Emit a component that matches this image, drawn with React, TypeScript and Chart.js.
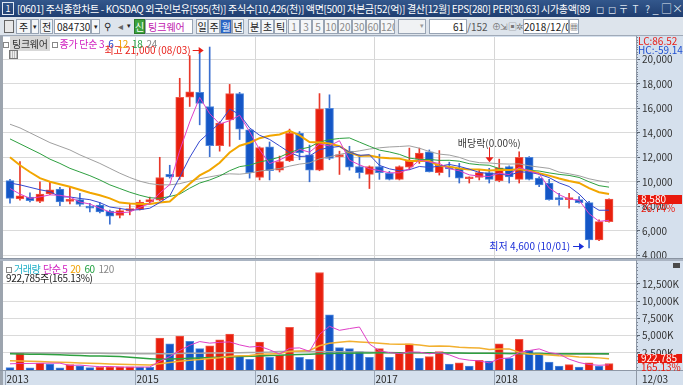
import React, { useEffect, useRef } from 'react';
import { Chart, registerables } from 'chart.js';
Chart.register(...registerables);

const FONT = '"Liberation Sans Narrow", "Noto Sans CJK KR", sans-serif';

// ---------- data (monthly, 2013-12 .. 2018-12) ----------
const yearStartIdx = [0, 13, 25, 37, 49];
const yearLabels = ['2013', '2015', '2016', '2017', '2018'];
const lastDateLabel = '12/03';

const opens = [10100, 8600, 8750, 8400, 9000, 9400, 8400, 8550, 8000, 8100, 7600, 7250, 7650, 7750, 8350,
  8500, 10600, 10400, 16900, 17300, 16150, 12950, 15050, 17200, 14250, 10350, 12850, 10950, 11700, 13950,
  12200, 10950, 16000, 12050, 12500, 11250, 10600, 11250, 10700, 10200, 11200, 11850, 12450, 10750, 11250,
  11100, 10250, 10350, 10750, 10100, 11250, 10200, 12000, 10300, 9900, 8650, 8550, 8550, 8300, 5250, 6750];
const highs = [10200, 11650, 9100, 10000, 10000, 9550, 9600, 9050, 8250, 8300, 7700, 7850, 8250, 8500, 8750,
  12000, 11350, 18450, 20300, 20500, 21000, 14900, 17950, 17300, 14300, 12850, 13250, 12100, 14300, 14100,
  13000, 17200, 17100, 12500, 12900, 12200, 11300, 12250, 10850, 11300, 12750, 12750, 12600, 12550, 11600,
  11500, 10400, 10950, 11100, 11850, 11300, 12450, 12050, 10400, 10200, 9050, 9050, 8800, 8400, 6900, 8600];
const lows = [8250, 8500, 8350, 8300, 8950, 8050, 8200, 8000, 7550, 7450, 6550, 7050, 7300, 7700, 8200,
  8450, 10300, 10200, 16150, 14650, 12050, 12500, 12900, 13450, 10300, 10150, 10150, 10800, 11650, 11800,
  10000, 10900, 11800, 10600, 10950, 10300, 9450, 10200, 10150, 10150, 11000, 11500, 10800, 10550, 10400,
  9900, 9900, 10150, 9900, 10000, 9900, 9900, 10150, 9600, 8500, 8100, 7850, 8250, 4600, 5200, 6700];
const closes = [8650, 8850, 8450, 9000, 9350, 8350, 8550, 8150, 7850, 7550, 7200, 7650, 7750, 8350, 8550,
  10350, 10400, 16900, 17350, 16400, 12950, 14800, 17200, 14300, 10750, 12800, 10900, 11650, 13950, 12350,
  10950, 15950, 11900, 12200, 11200, 10750, 11250, 10750, 10200, 11250, 11700, 12350, 10800, 11350, 11050,
  10300, 10350, 10750, 10200, 11150, 10400, 12000, 10200, 9750, 8550, 8550, 8650, 8300, 5250, 6750, 8580];
// volume in thousand shares
const volumes = [350, 2450, 330, 1000, 850, 330, 800, 600, 340, 380, 420, 450, 470, 420, 400,
  4650, 3800, 4930, 4180, 3100, 3530, 4370, 5210, 2030, 1560, 4040, 1850, 2130, 6190, 1850,
  1560, 14170, 8010, 3250, 3110, 2690, 1850, 3110, 1850, 2500, 3810, 1710, 1940, 2690, 860,
  1050, 580, 1420, 1280, 3810, 1710, 4460, 2870, 2500, 1140, 580, 770, 440, 1050, 580, 923];

// moving-average values before a full window exists
const ma3Head = [9450, 9000];
const ma6Head = [9900, 9750, 9550, 9350, 9200];
const ma12Head = [12000, 11350, 10800, 10300, 10000, 9800, 9600, 9350, 9100, 8900, 8650];
const ma18Head = [13500, 13100, 12700, 12300, 11850, 11500, 11100, 10800, 10500, 10150, 9750, 9450, 9150,
  8900, 8700, 8650, 8800];
const ma24Head = [14700, 14400, 14000, 13600, 13200, 12900, 12600, 12200, 11850, 11500, 11100, 10700,
  10350, 10050, 9850, 9750, 9750, 9850, 10050, 10250, 10400, 10550, 10650];
const volMa5Head = [900, 950, 950, 980];
const volMa20Head = [1330, 1300, 1260, 1220, 1180, 1130, 1080, 1030, 980, 930, 880, 840, 800, 760, 730,
  900, 1080, 1270, 1420];
const volMa60 = [2350, 2330, 2300, 2280, 2250, 2200, 2150, 2100, 2050, 2030, 2000, 1950, 1850, 1750, 1650,
  1580, 1600, 1650, 1700, 1750, 1800, 1850, 1900, 1950, 2000, 2050, 2100, 2150, 2200, 2250,
  2300, 2350, 2400, 2430, 2450, 2470, 2480, 2490, 2500, 2500, 2500, 2500, 2490, 2480, 2470,
  2460, 2450, 2440, 2430, 2420, 2410, 2400, 2400, 2390, 2380, 2370, 2360, 2360, 2350, 2350, 2350];
const volMa120 = [2500, 2500, 2490, 2480, 2470, 2460, 2450, 2440, 2430, 2420, 2410, 2400, 2390, 2380, 2370,
  2360, 2380, 2400, 2420, 2440, 2460, 2480, 2500, 2520, 2540, 2560, 2600, 2680, 2700, 2700,
  2690, 2680, 2660, 2640, 2620, 2600, 2580, 2560, 2540, 2520, 2500, 2490, 2480, 2470, 2460,
  2450, 2440, 2430, 2420, 2410, 2400, 2390, 2380, 2370, 2360, 2350, 2340, 2330, 2320, 2310, 2300];

const priceTicks = [4000, 6000, 8000, 10000, 12000, 14000, 16000, 18000, 20000];
const volTicks = [2500, 5000, 7500, 10000, 12500];
const highDate = '08/03';
const lowDate = '10/01';
const exDivIdx = 48;
const exDivLabel = '배당락(0.00%)';
const lastVolumeShares = '922,785';
const volRatio = '165.13%';
const priceChange = '26.74%';

// ---------- helpers ----------
const fmt = (v: number) => Math.round(v).toLocaleString('en-US');
const sma = (src: number[], n: number, head: number[]) =>
  src.map((_, i) => (i >= n - 1 ? src.slice(i - n + 1, i + 1).reduce((a, b) => a + b, 0) / n : head[i]));
const idx = closes.map((_, i) => i);
const RED = '#e8200e', BLUE = '#1456c6';
const up = closes.map((c, i) => c >= opens[i]);
const volUp = volumes.map((v, i) => (i === 0 ? false : v >= volumes[i - 1]));

const xScale = { type: 'linear' as const, display: false, min: -0.7, max: 62.7, offset: false };

const bgPlugin = {
  id: 'bg',
  beforeDraw(chart: any) {
    const { ctx, chartArea: a } = chart;
    ctx.save();
    ctx.fillStyle = '#ffffff';
    ctx.fillRect(a.left, a.top, a.right - a.left, a.bottom - a.top);
    ctx.strokeStyle = '#d6d6d6';
    ctx.lineWidth = 1;
    ctx.beginPath();
    yearStartIdx.slice(1).forEach((i) => {
      const px = Math.round(chart.scales.x.getPixelForValue(i - 0.5)) + 0.5;
      ctx.moveTo(px, a.top);
      ctx.lineTo(px, a.bottom);
    });
    ctx.stroke();
    ctx.restore();
  },
  afterDraw(chart: any) {
    const { ctx, chartArea: a, scales: { y } } = chart;
    ctx.save();
    ctx.strokeStyle = '#7a8494';
    ctx.lineWidth = 1;
    ctx.beginPath();
    const minorStep = (y.max - y.min) > 16000 ? 200 : 500;
    for (let v = Math.ceil(y.min / minorStep) * minorStep; v <= y.max; v += minorStep) {
      const py = Math.round(y.getPixelForValue(v)) + 0.5;
      ctx.moveTo(a.right, py);
      ctx.lineTo(a.right + 2, py);
    }
    ctx.stroke();
    ctx.strokeStyle = '#8e98a6';
    ctx.beginPath();
    ctx.moveTo(a.right + 0.5, 0);
    ctx.lineTo(a.right + 0.5, chart.height);
    ctx.stroke();
    ctx.restore();
  },
};

function arrowRight(ctx: CanvasRenderingContext2D, x0: number, x1: number, y: number) {
  ctx.beginPath();
  ctx.moveTo(x0, y + 0.5);
  ctx.lineTo(x1 - 3, y + 0.5);
  ctx.stroke();
  ctx.beginPath();
  ctx.moveTo(x1, y + 0.5);
  ctx.lineTo(x1 - 5, y - 3);
  ctx.lineTo(x1 - 5, y + 4);
  ctx.closePath();
  ctx.fill();
}

function tag(ctx: CanvasRenderingContext2D, a: any, py: number, text: string, sub: string) {
  ctx.fillStyle = '#e8180c';
  ctx.fillRect(a.right + 2, Math.round(py) - 4, 44, 9);
  ctx.fillStyle = '#ffffff';
  ctx.textAlign = 'left';
  ctx.textBaseline = 'middle';
  ctx.fillText(text, a.right + 5, Math.round(py) + 0.5);
  ctx.fillStyle = '#e8180c';
  ctx.fillText(sub, a.right + 5, Math.round(py) + 9.5);
}

const priceAnnot = {
  id: 'priceAnnot',
  afterDraw(chart: any) {
    const { ctx, chartArea: a, scales: { x, y } } = chart;
    ctx.save();
    ctx.font = `10px ${FONT}`;
    ctx.lineWidth = 1;
    const hiVal = Math.max(...highs);
    const hi = highs.indexOf(hiVal);
    const hx = x.getPixelForValue(hi) - 6;
    const hy = Math.round(y.getPixelForValue(hiVal)) + 3;
    ctx.strokeStyle = ctx.fillStyle = '#e8201a';
    arrowRight(ctx, hx - 11, hx, hy);
    ctx.textAlign = 'right';
    ctx.textBaseline = 'middle';
    ctx.fillText(`최고 ${fmt(hiVal)} (${highDate})`, hx - 13, hy);
    const loVal = Math.min(...lows);
    const lo = lows.indexOf(loVal);
    const lx = x.getPixelForValue(lo) - 5;
    const ly = Math.round(y.getPixelForValue(loVal)) - 2;
    ctx.strokeStyle = ctx.fillStyle = '#1a2ed8';
    arrowRight(ctx, lx - 11, lx, ly);
    ctx.fillText(`최저 ${fmt(loVal)} (${lowDate})`, lx - 14, ly);
    const ex = x.getPixelForValue(exDivIdx);
    const ey = y.getPixelForValue(highs[exDivIdx]);
    const exx = Math.round(ex) + 0.5;
    ctx.strokeStyle = ctx.fillStyle = '#e8201a';
    ctx.beginPath();
    ctx.moveTo(exx, ey - 21);
    ctx.lineTo(exx, ey - 10);
    ctx.stroke();
    ctx.beginPath();
    ctx.moveTo(exx - 4, ey - 11);
    ctx.lineTo(exx + 4, ey - 11);
    ctx.lineTo(exx, ey - 6);
    ctx.closePath();
    ctx.fill();
    ctx.fillStyle = '#3a3a3a';
    ctx.textAlign = 'center';
    ctx.fillText(exDivLabel, ex, ey - 25);
    ctx.textAlign = 'left';
    ctx.fillStyle = '#e8201a';
    ctx.fillText('LC:86.52', a.right + 2, 5);
    ctx.fillStyle = '#2050d0';
    ctx.fillText('HC:-59.14', a.right + 2, 14);
    tag(ctx, a, y.getPixelForValue(closes[closes.length - 1]), fmt(closes[closes.length - 1]), priceChange);
    ctx.restore();
  },
};

const volAnnot = {
  id: 'volAnnot',
  afterDraw(chart: any) {
    const { ctx, chartArea: a, scales: { x, y } } = chart;
    ctx.save();
    ctx.font = `10px ${FONT}`;
    ctx.strokeStyle = '#8e98a6';
    ctx.beginPath();
    ctx.moveTo(0, a.bottom + 0.5);
    ctx.lineTo(chart.width, a.bottom + 0.5);
    ctx.stroke();
    ctx.strokeStyle = '#9aa6b6';
    ctx.fillStyle = '#2a2a2a';
    ctx.textAlign = 'left';
    ctx.textBaseline = 'middle';
    yearStartIdx.forEach((i, k) => {
      const px = Math.round(x.getPixelForValue(i - 0.5)) + 0.5;
      ctx.beginPath();
      ctx.moveTo(px, a.bottom + 1);
      ctx.lineTo(px, chart.height);
      ctx.stroke();
      ctx.fillText(yearLabels[k], px + 1, a.bottom + 9);
    });
    ctx.fillText(lastDateLabel, a.right + 6, a.bottom + 9);
    ctx.fillStyle = '#4a4a4a';
    ctx.fillRect(a.right + 37, 3, 7, 5);
    tag(ctx, a, Math.min(y.getPixelForValue(volumes[volumes.length - 1]) - 3, a.bottom - 12),
      lastVolumeShares, volRatio);
    ctx.restore();
  },
};

const wickColors = up.map((u) => (u ? '#e8382a' : '#3a6fd0'));
const bodyFill = up.map((u) => (u ? RED : BLUE));
const bodyBorder = up.map((u) => (u ? '#f0584a' : '#4f88dc'));

function maLine(values: number[], color: string, width = 1) {
  return {
    type: 'line' as const,
    data: values.map((v, i) => ({ x: i, y: v })),
    borderColor: color,
    borderWidth: width,
    pointRadius: 0,
    tension: 0,
    order: 0,
  };
}

export default function App() {
  const priceRef = useRef<HTMLCanvasElement>(null);
  const volRef = useRef<HTMLCanvasElement>(null);

  useEffect(() => {
    const tickFont = { size: 10, family: FONT };
    const price = new Chart(priceRef.current!, {
      type: 'bar',
      data: {
        datasets: [
          maLine(sma(closes, 3, ma3Head), '#e040c8'),
          maLine(sma(closes, 6, ma6Head), '#3448d0'),
          maLine(sma(closes, 12, ma12Head), '#f2a600', 2),
          maLine(sma(closes, 18, ma18Head), '#2ea040'),
          maLine(sma(closes, 24, ma24Head), '#a0a0a0'),
          {
            type: 'bar', order: 1, grouped: false,
            data: idx.map((i) => ({ x: i, y: [opens[i], closes[i]] })),
            backgroundColor: bodyFill, borderColor: bodyBorder, borderWidth: 1, borderSkipped: false,
            barThickness: 8, minBarLength: 2,
          } as any,
          {
            type: 'bar', order: 2, grouped: false,
            data: idx.map((i) => ({ x: i, y: [lows[i], highs[i]] })),
            backgroundColor: wickColors, barThickness: 1,
          } as any,
        ],
      },
      options: {
        responsive: false, maintainAspectRatio: false, animation: false,
        layout: { padding: { left: 3, top: 1, bottom: 1, right: 0 } },
        plugins: { legend: { display: false }, tooltip: { enabled: false } },
        scales: {
          x: xScale,
          y: {
            position: 'right', min: 3779, max: 21820,
            afterBuildTicks: (s: any) => { s.ticks = priceTicks.map((v) => ({ value: v })); },
            afterFit: (s: any) => { s.width = 47; s.paddingTop = 0; s.paddingBottom = 0; },
            grid: { color: '#dadada', tickLength: 4, tickColor: '#5a6470' },
            border: { display: false },
            ticks: { font: tickFont, color: '#333', padding: 2, callback: (v: any) => fmt(v) },
          },
        },
      } as any,
      plugins: [bgPlugin, priceAnnot],
    });

    const vol = new Chart(volRef.current!, {
      type: 'bar',
      data: {
        datasets: [
          maLine(sma(volumes, 5, volMa5Head), '#e040c8'),
          maLine(sma(volumes, 20, volMa20Head), '#f2b030', 1.5),
          maLine(volMa60, '#2ea040', 1.5),
          maLine(volMa120, '#a8a8a8', 1.5),
          {
            type: 'bar', order: 1, grouped: false,
            data: idx.map((i) => ({ x: i, y: volumes[i] })),
            backgroundColor: volUp.map((u) => (u ? RED : BLUE)),
            borderColor: volUp.map((u) => (u ? '#f0584a' : '#4f88dc')),
            borderWidth: 1, borderSkipped: 'bottom', barThickness: 8,
          } as any,
        ],
      },
      options: {
        responsive: false, maintainAspectRatio: false, animation: false,
        layout: { padding: { left: 3, top: 1, bottom: 15, right: 0 } },
        plugins: { legend: { display: false }, tooltip: { enabled: false } },
        scales: {
          x: xScale,
          y: {
            position: 'right', min: 0, max: 15843,
            afterBuildTicks: (s: any) => { s.ticks = volTicks.map((v) => ({ value: v })); },
            afterFit: (s: any) => { s.width = 47; s.paddingTop = 0; s.paddingBottom = 0; },
            grid: { color: '#dadada', tickLength: 4, tickColor: '#5a6470' },
            border: { display: false },
            ticks: { font: tickFont, color: '#333', padding: 2, callback: (v: any) => `${fmt(v)}K` },
          },
        },
      } as any,
      plugins: [bgPlugin, volAnnot],
    });
    return () => { price.destroy(); vol.destroy(); };
  }, []);

  const abs = (l: number, t: number, w: number, h: number, extra: any = {}) => ({
    position: 'absolute' as const, left: l, top: t, width: w, height: h, boxSizing: 'border-box' as const, ...extra,
  });
  const btn = (l: number, w: number, txt: string, extra: any = {}) => (
    <div style={abs(l, 19, w, 15, { border: '1px solid #98a4b4', background: '#f4f6f8', fontSize: 10,
      lineHeight: '13px', textAlign: 'center', color: '#222', overflow: 'hidden', ...extra })}>{txt}</div>
  );

  return (
    <div style={{ position: 'absolute', left: 0, top: 0, width: 683, height: 385, overflow: 'hidden',
      background: '#d5e0ed', fontFamily: FONT }}>
      {/* title bar */}
      <div style={abs(0, 0, 683, 17, { background: 'linear-gradient(#33578c, #1f3e70)' })} />
      <div style={abs(2, 2, 12, 13, { border: '1px solid #dfe8f4', color: '#fff', fontSize: 9, lineHeight: '11px', textAlign: 'center' })}>1</div>
      <div style={abs(17, 1, 573, 15, { color: '#fff', fontSize: 10, lineHeight: '15px', whiteSpace: 'nowrap', overflow: 'hidden', letterSpacing: '-0.35px' })}>
        [0601] 주식종합차트 - KOSDAQ 외국인보유[595(천)] 주식수[10,426(천)] 액면[500] 자본금[52(억)] 결산[12월] EPS[280] PER[30.63] 시가총액[898(억)]
      </div>
      {['◻', '◻', '〒', 'T', '?'].map((s, k) => (
        <div key={k} style={abs(594 + k * 12, 1, 11, 15, { color: '#dfe6f0', fontSize: 10, lineHeight: '15px', textAlign: 'center' })}>{s}</div>
      ))}
      {['_', '□', '×'].map((s, k) => (
        <div key={k} style={abs(650 + k * 11, 1, 11, 15, { color: '#dfe6f0', fontSize: 11, lineHeight: '14px', textAlign: 'center' })}>{s}</div>
      ))}
      {/* toolbar */}
      <div style={abs(0, 17, 683, 19, { background: '#dde4ec', borderBottom: '1px solid #a0aab8' })} />
      <div style={abs(4, 20, 10, 13, { border: '1px solid #666', background: '#e8e8e8' })} />
      {btn(16, 15, '주')}
      {btn(31, 8, '▾', { fontSize: 7 })}
      {btn(40, 13, '전')}
      {btn(54, 37, '084730', { background: '#fff', textAlign: 'left', paddingLeft: 2 })}
      {btn(91, 9, '▾', { fontSize: 7 })}
      {btn(102, 11, '⚲', { border: 'none', background: 'transparent' })}
      {btn(115, 10, '◂', { border: 'none', background: 'transparent', color: '#666' })}
      {btn(125, 7, '▾', { border: 'none', background: 'transparent', fontSize: 7 })}
      {btn(134, 11, '신', { background: '#3ca23c', color: '#fff', border: '1px solid #2a7a2a' })}
      {btn(145, 48, '팅크웨어', { background: '#fff', color: '#c020b0', textAlign: 'left', paddingLeft: 2 })}
      {['일', '주', '월', '년'].map((s, k) => btn(196 + k * 12, 12, s, k === 2 ? { background: '#2a64c4', color: '#fff' } : {}))}
      {['분', '초', '틱'].map((s, k) => btn(248 + k * 13, 13, s))}
      {['1', '3', '5', '10', '20', '30', '60', '120'].map((s, k) => btn([288, 300, 312, 324, 338, 352, 366, 380][k], [12, 12, 12, 14, 14, 14, 14, 15][k], s, { color: '#8a8a8a' }))}
      {btn(398, 28, '', { background: '#f0f2f4' })}
      {btn(418, 8, '▾', { fontSize: 7, color: '#999', border: 'none', background: 'transparent' })}
      {btn(429, 38, '61', { background: '#fff', textAlign: 'right', paddingRight: 2 })}
      <div style={abs(467, 19, 26, 15, { fontSize: 10, lineHeight: '15px', color: '#555' })}>/152</div>
      {['⊕', '⇲', '▣', '✲'].map((s, k) => (
        <div key={k} style={abs(492 + k * 8, 19, 8, 15, { fontSize: 9, lineHeight: '15px', color: '#777', textAlign: 'center' })}>{s}</div>
      ))}
      {btn(523, 46, '2018/12/03', { background: '#fff' })}
      {btn(569, 10, '▦', { fontSize: 8, background: '#fff' })}
      {/* chart canvases */}
      <div style={abs(0, 36, 3, 349, { background: '#9ca4ae' })} />
      <canvas ref={priceRef} width={683} height={223} style={{ position: 'absolute', left: 0, top: 36 }} />
      <div style={abs(0, 258, 683, 3, { background: '#aab4c2', borderTop: '1px solid #8a94a2' })} />
      <canvas ref={volRef} width={683} height={125} style={{ position: 'absolute', left: 0, top: 260 }} />
      {/* legends */}
      <div style={abs(3, 38, 200, 12, { fontSize: 10, lineHeight: '12px', whiteSpace: 'nowrap', letterSpacing: '-0.3px' })}>
        <span style={{ display: 'inline-block', width: 4, height: 4, border: '1px solid #888', verticalAlign: 'middle' }} />
        <span style={{ background: '#d8d8d8', color: '#333', padding: '0 2px', marginLeft: 1 }}>팅크웨어</span>
        <span style={{ display: 'inline-block', width: 4, height: 4, border: '1px solid #888', verticalAlign: 'middle', marginLeft: 2 }} />
        <span style={{ color: '#d020c0', marginLeft: 2 }}>종가 단순 3</span>
        <span style={{ color: '#2040d0', marginLeft: 4 }}>6</span>
        <span style={{ color: '#f0a000', marginLeft: 4 }}>12</span>
        <span style={{ color: '#20a040', marginLeft: 4 }}>18</span>
        <span style={{ color: '#888', marginLeft: 4 }}>24</span>
      </div>
      <div style={abs(9, 50, 9, 9, { border: '1px solid #777', background: 'repeating-linear-gradient(90deg,#bbb 0 1px,#eee 1px 2px)' })} />
      <div style={abs(6, 263, 200, 12, { fontSize: 10, lineHeight: '12px', whiteSpace: 'nowrap', letterSpacing: '-0.5px' })}>
        <span style={{ display: 'inline-block', width: 4, height: 4, border: '1px solid #888', verticalAlign: 'middle' }} />
        <span style={{ color: '#20b0c8', marginLeft: 2 }}>거래량</span>
        <span style={{ color: '#d020c0', marginLeft: 3 }}>단순 5</span>
        <span style={{ color: '#f0a000', marginLeft: 3 }}>20</span>
        <span style={{ color: '#20a040', marginLeft: 4 }}>60</span>
        <span style={{ color: '#888', marginLeft: 4 }}>120</span>
      </div>
      <div style={abs(6, 273, 200, 10, { fontSize: 10, lineHeight: '10px', color: '#222', whiteSpace: 'nowrap', letterSpacing: '-0.3px' })}>
        {lastVolumeShares}주({volRatio})
      </div>
    </div>
  );
}
